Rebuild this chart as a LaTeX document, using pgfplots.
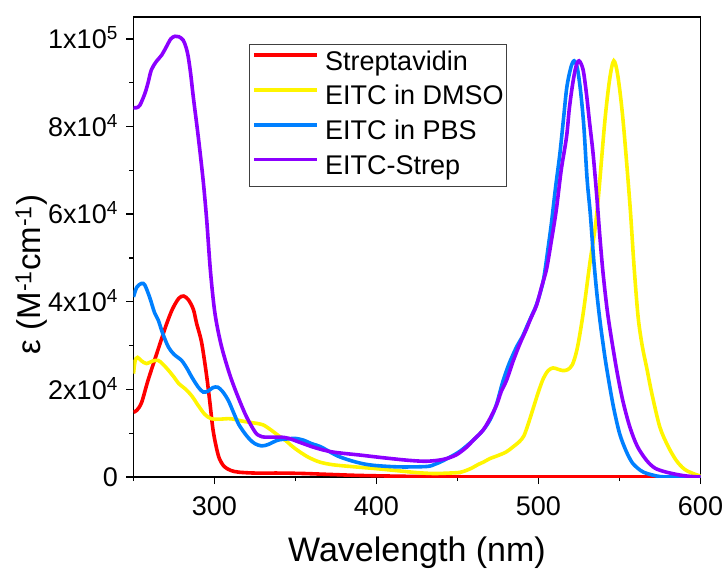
\documentclass[border=0pt]{standalone}
\usepackage{fontspec}
\setmainfont{Liberation Sans}
\usepackage{pgfplots}
\pgfplotsset{compat=1.18}
\definecolor{cred}{RGB}{255,0,0}
\definecolor{cyel}{RGB}{255,245,0}
\definecolor{cblue}{RGB}{0,128,255}
\definecolor{cpur}{RGB}{140,0,255}
\begin{document}
\begin{tikzpicture}
\path[use as bounding box] (-133.5pt,-91.3pt) rectangle (592.5pt,477pt);
\begin{axis}[
  at={(0,0)}, anchor=south west,
  width=567pt, height=460pt, scale only axis,
  xmin=250, xmax=600, ymin=0, ymax=105000,
  xtick={300,400,500,600}, xticklabels={300,400,500,600},
  minor xtick={250,350,450,550},
  ytick={0,20000,40000,60000,80000,100000},
  yticklabels={0,2x10\textsuperscript{4},4x10\textsuperscript{4},6x10\textsuperscript{4},8x10\textsuperscript{4},1x10\textsuperscript{5}},
  minor ytick={10000,30000,50000,70000,90000},
  scaled ticks=false,
  tick align=outside,
  xtick pos=bottom, ytick pos=left,
  major tick length=7pt, minor tick length=4pt,
  every tick/.style={black, line width=1.3pt},
  axis line style={line width=1.4pt},
  tick label style={font=\fontsize{27}{30}\selectfont, inner sep=0pt},
  xticklabel shift=12pt,
  yticklabel style={anchor=base east, yshift=-9.7pt},
  yticklabel shift=8.5pt,
  xlabel={Wavelength (nm)},
  xlabel style={at={(axis description cs:0.5,-0.1833)}, anchor=base, font=\fontsize{34}{40}\selectfont},
  ylabel={ε (M\textsuperscript{-1}cm\textsuperscript{-1})},
  ylabel style={at={(axis description cs:-0.18,0.44)}, anchor=center, font=\fontsize{33}{40}\selectfont},
  legend style={at={(axis description cs:0.204,0.942)}, anchor=north west,
    draw=black!75, line width=0.9pt, font=\fontsize{27}{30}\selectfont,
    inner xsep=3pt, inner ysep=6pt, row sep=8.8pt, column sep=6pt,
    nodes={inner sep=0pt, text height=20pt, text depth=6pt}},
  legend cell align=left,
  legend image code/.code={\draw[#1, line width=3.6pt] (0pt,8pt) -- (63pt,8pt);},
  every axis plot/.append style={line width=3.6pt, smooth, tension=0.5},
]
\addplot[cred] coordinates {
(250,14800)(252,15200)(255,17000)(259,22100)(265,28900)(270,34500)(274,38300)
(278,40800)(281,41300)(284,40400)(287,38200)(289,35000)(292,30800)(295,23500)
(297,17500)(299,11000)(301,7000)(303,4200)(306,2400)(310,1500)(315,1100)
(325,900)(340,900)(355,800)(370,600)(390,350)(420,150)(450,50)(500,0)(600,0)};
\addlegendentry{Streptavidin}
\addplot[cyel] coordinates {
(250,23600)(251,26500)(252.5,27300)(255,26500)(258,25900)(262,26500)(265.3,26600)
(268,25800)(271.5,24400)(275,22800)(278,21300)(282,20100)(286,18500)(290,16300)
(294,14300)(298,13300)(303,13200)(310,13300)(318,12700)(325,12300)(330,11900)
(335,10700)(340,9300)(344,8300)(348,7000)(352,5900)(358,4500)(365,3400)(373,2800)
(384,2400)(400,1900)(414,1400)(425,1000)(435,800)(445,900)(452,1100)(458,1900)
(463,2900)(466,3400)(470,4200)(475,4900)(480,5700)(484,6800)(488,8000)(491,9400)
(494,12500)(497,16000)(500,19500)(503,22500)(506,24300)(509,24900)(512,24600)
(515,24300)(518,24500)(521,25700)(524,29500)(527.6,37400)(531.7,48800)(535,57000)
(537,64000)(541,81400)(544,91000)(546.5,95000)(549,91500)(552.2,81400)(556.4,62400)
(559,48000)(561.5,36500)(564,30000)(566.7,25100)(570,19000)(574.9,11400)(580,7000)
(585,3800)(590,1800)(595.4,800)(600,200)};
\addlegendentry{EITC in DMSO}
\addplot[cblue] coordinates {
(250,41100)(252,43300)(255,44200)(257,43800)(260,41000)(263,37500)(265.3,35800)
(268,32800)(271.5,29700)(275,28000)(279.7,26600)(283,24800)(286,22800)(290,20500)
(293,19400)(296,19600)(299,20400)(302,20500)(305,19500)(308.5,17500)(312,14500)
(315,12000)(318.8,9900)(322,8500)(325,7600)(329,7100)(333,7400)(339,8400)(345,8700)
(350,8800)(355,8400)(360,7600)(365,7000)(370,6000)(376,4800)(383.6,3800)(392,3000)
(400,2600)(414.4,2300)(431,2400)(436,2900)(441,3700)(450,5500)(456,7200)(462,9200)
(466,10800)(470,13000)(474,16500)(478,21800)(482,26000)(486.5,29700)(490,32000)
(493,34500)(496,37000)(499,39600)(503,44900)(506,52500)(508,58000)(510.5,66000)
(513.2,73800)(515.5,82000)(517.5,89000)(520,93500)(522,95000)(524,93300)(526,88000)
(528,80000)(530,68000)(532,60000)(534,50000)(536,42000)(538,35500)(540,30000)
(542,25000)(546,16500)(550,10000)(554,6000)(558,3200)(563,1500)(567,800)(575,100)
(585,0)(600,0)};
\addlegendentry{EITC in PBS}
\addplot[cpur] coordinates {
(250,84300)(252,84300)(254,84900)(257,87500)(259,90000)(261,92900)(264,94800)
(267.4,96300)(270,98000)(273,100000)(275.6,100600)(278,100500)(280.7,99700)
(282.5,98000)(283.8,95900)(285.3,92000)(286.9,86800)(290,77600)(293,67700)
(295.2,58600)(297.5,47000)(300.3,37300)(304.4,29700)(310.6,22100)(318.8,14500)
(325,10300)(328,9400)(331,9100)(341,9100)(346,8800)(352,8000)(362,6700)(373,5700)
(390,5000)(404,4400)(420,3800)(431,3600)(441,4000)(449,5000)(455.6,6800)(460,8500)
(465.8,10700)(470,13300)(474,16300)(477,19500)(480.3,22100)(484.4,26500)
(488.5,30400)(492.6,33800)(495,36000)(498.8,39200)(502,43500)(505,47500)(508,54000)
(511,61000)(514,70000)(517.3,77600)(519,84000)(521,89500)(523,93500)(525,95000)
(527.5,93000)(529.6,87500)(531.5,81000)(533.7,73800)(536,64000)(537.9,54800)
(540,46000)(543,36500)(548,25000)(552,17500)(556.4,11400)(561,7000)(566.7,3800)
(572,2000)(579,1100)(588,400)(595,100)(600,0)};
\addlegendentry{EITC-Strep}
\end{axis}
\end{tikzpicture}
\end{document}
